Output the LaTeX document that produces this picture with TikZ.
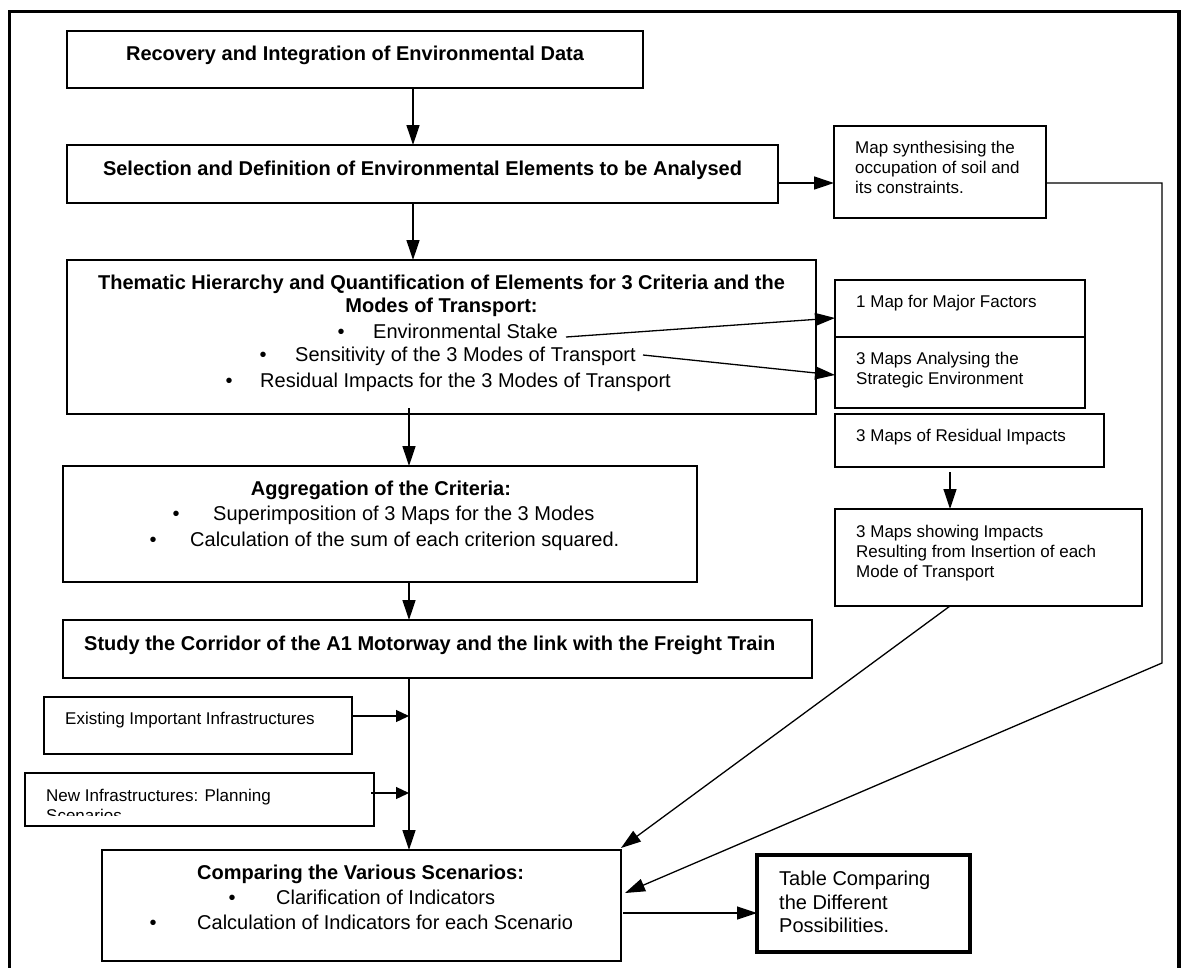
\documentclass[tikz,border=0pt]{standalone}
\usepackage{fontspec}
\setmainfont{Liberation Sans}
\usetikzlibrary{arrows.meta,calc}
\begin{document}
\begin{tikzpicture}[x=1pt,y=-1pt,
  box/.style={draw, line width=1.4pt, inner sep=0pt, outer sep=0pt, anchor=north west},
  conn/.style={line width=1.3pt},
  arr/.style={conn, -{Triangle[length=20pt,width=13pt]}},
  sarr/.style={conn, -{Triangle[length=13pt,width=12pt]}},
  hd/.style={font=\fontsize{20pt}{23pt}\selectfont\bfseries, inner sep=0pt, anchor=base},
  hdl/.style={hd, anchor=base west},
  tx/.style={font=\fontsize{20pt}{23pt}\selectfont, inner sep=0pt, anchor=base west},
  bul/.style={font=\fontsize{20pt}{23pt}\selectfont, inner sep=0pt, anchor=base},
  sm/.style={font=\fontsize{17pt}{20pt}\selectfont, inner sep=0pt, anchor=base west}
]
\useasboundingbox (0,0) rectangle (1183,967);

% outer frame (open at the lower edge)
\draw[line width=3.5pt] (9.5,980) -- (9.5,11.5) -- (1179,11.5) -- (1179,980);

% main column boxes
\node[box, minimum width=576pt, minimum height=57pt] (b1) at (67,31) {};
\node[box, minimum width=711pt, minimum height=58pt] (b2) at (67,145) {};
\node[box, minimum width=749pt, minimum height=154pt] (b3) at (67,260) {};
\node[box, minimum width=634pt, minimum height=116pt] (b4) at (63,466) {};
\node[box, minimum width=749pt, minimum height=58pt] (b5) at (63,620) {};
\node[box, minimum width=308pt, minimum height=57pt] (b6) at (44,697) {};
\node[box, minimum width=349pt, minimum height=53pt] (b7) at (25,773) {};
\node[box, minimum width=519pt, minimum height=111pt] (b8) at (102,850) {};

% map boxes on the right
\node[box, minimum width=212pt, minimum height=92pt] (m1) at (834,126) {};
\node[box, minimum width=250pt, minimum height=57pt] (m2) at (835,280) {};
\node[box, minimum width=250pt, minimum height=71pt] (m3) at (835,337) {};
\node[box, minimum width=269pt, minimum height=53pt] (m4) at (835,414) {};
\node[box, minimum width=307pt, minimum height=97pt] (m5) at (835,509) {};
\node[box, line width=4pt, minimum width=213pt, minimum height=97pt] (tb) at (757,855) {};

% texts of the main column
\node[hd] (t1) at (355,60) {Recovery and Integration of Environmental Data};
\node[hd] (t2) at (422.5,175) {Selection and Definition of Environmental Elements to be Analysed};
\node[hd] (t3a) at (441.5,289) {Thematic Hierarchy and Quantification of Elements for 3 Criteria and the};
\node[hd] (t3b) at (441.5,312) {Modes of Transport:};
\node[bul] at (341,338) {•};
\node[tx] (tEnv) at (373,338) {Environmental Stake};
\node[bul] at (263,361) {•};
\node[tx] (tSens) at (295,361) {Sensitivity of the 3 Modes of Transport};
\node[bul] at (229,387) {•};
\node[tx] (tRes) at (260,387) {Residual Impacts for the 3 Modes of Transport};

\node[hd] (t4) at (381,495) {Aggregation of the Criteria:};
\node[bul] at (176,520) {•};
\node[tx] (t4a) at (213,520) {Superimposition of 3 Maps for the 3 Modes};
\node[bul] at (153,546) {•};
\node[tx] (t4b) at (190,546) {Calculation of the sum of each criterion squared.};

\node[hdl] (t5) at (84,650) {Study the Corridor of the A1 Motorway and the link with the Freight Train};

\node[sm] (t6) at (65,724) {Existing Important Infrastructures};
\node[sm] (t7) at (46,801) {New Infrastructures: Planning};
\begin{scope}
  \clip (25,773) rectangle (374,815);
  \node[sm] (t7b) at (46,821) {Scenarios};
\end{scope}

\node[hdl] (t8) at (197,879) {Comparing the Various Scenarios:};
\node[bul] at (232,904) {•};
\node[tx] (t8a) at (276,904) {Clarification of Indicators};
\node[bul] at (153,929) {•};
\node[tx] (t8b) at (197,929) {Calculation of Indicators for each Scenario};

% texts of the map boxes
\node[sm] (tm1a) at (855,153) {Map synthesising the};
\node[sm] (tm1b) at (855,173) {occupation of soil and};
\node[sm] (tm1c) at (855,193) {its constraints.};
\node[sm] (tm2) at (856,307) {1 Map for Major Factors};
\node[sm] (tm3a) at (856,364) {3 Maps Analysing the};
\node[sm] (tm3b) at (856,384) {Strategic Environment};
\node[sm] (tm4) at (856,441) {3 Maps of Residual Impacts};
\node[sm] (tm5a) at (856,537) {3 Maps showing Impacts};
\node[sm] (tm5b) at (856,557) {Resulting from Insertion of each};
\node[sm] (tm5c) at (856,577) {Mode of Transport};
\node[tx] (tt1) at (779,885) {Table Comparing};
\node[tx] (tt2) at (779,909) {the Different};
\node[tx] (tt3) at (779,932) {Possibilities.};

% connectors of the main column
\draw[arr] (b1.south -| 413,0) -- (b2.north -| 413,0);
\draw[arr] (b2.south -| 413,0) -- (b3.north -| 413,0);
\draw[arr] (409,408) -- (b4.north -| 409,0);
\draw[arr] (b4.south -| 409,0) -- (b5.north -| 409,0);
\draw[arr] (b5.south -| 409,0) -- (b8.north -| 409,0);
\draw[sarr] (b6.east |- 0,716) -- (409,716);
\draw[sarr] (371,793) -- (409,793);

% connectors towards the maps
\draw[arr] (b2.east |- 0,183) -- (m1.west |- 0,183);
\coordinate (envEnd) at (566,337);
\coordinate (sensEnd) at (643,355);
\draw[arr] (envEnd) -- (m2.west |- 0,318);
\draw[arr] (sensEnd) -- (m3.west |- 0,375);
\draw[arr] (950,472) -- (m5.north -| 950,0);

% connectors into the comparison box
\draw[arr] (m5.south -| 950,0) -- ($(b8.north east)+(0,-2)$);
\draw[arr] (m1.east |- 0,183) -- (1162,183) -- (1162,663) -- ($(b8.east |- 0,893)+(4,0)$);
\draw[arr] ($(b8.east |- 0,913)+(2,0)$) -- (tb.west |- 0,913);

\end{tikzpicture}
\end{document}
